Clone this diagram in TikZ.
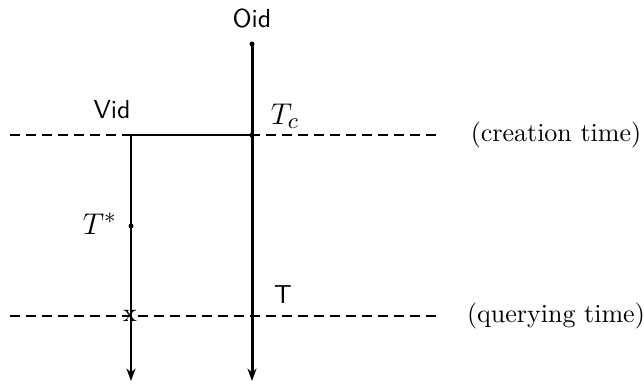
\documentclass[tikz,border=0pt]{standalone}
\usetikzlibrary{arrows.meta}
\begin{document}
\begin{tikzpicture}[x=0.4pt,y=-0.4pt,
  every node/.style={font=\fontsize{10.4}{12.5}\selectfont, inner sep=0pt},
  mathlabel/.style={font=\fontsize{12.5}{15}\selectfont},
  timeline/.style={line width=0.8pt, dash pattern=on 4pt off 2.4pt},
  qline/.style={line width=1.1pt, dash pattern=on 4pt off 2.4pt},
  life/.style={line width=0.8pt, -{Stealth[length=5pt,width=3.6pt]}},
  olife/.style={line width=1.2pt, -{Stealth[length=5pt,width=3.6pt]}},
  dotmark/.style={circle, fill=black, minimum size=2pt, inner sep=0pt}]
\useasboundingbox (0,0) rectangle (644,383);
% coordinates
\coordinate (cl) at (10,135);
\coordinate (cr) at (440,135);
\coordinate (ql) at (10,316);
\coordinate (qr) at (440,316);
\coordinate (vtop) at (131,135);
\coordinate (vbot) at (131,381);
\coordinate (obot) at (252,381);
\node[dotmark] (otop) at (252,44) {};
\node[dotmark] (oc) at (252,135) {};
\node[dotmark] (ts) at (131,226) {};
% dashed time lines
\draw[timeline] (cl) -- (cr);
\draw[qline] (ql) -- (qr);
% lifelines
\draw[olife] (otop.center) -- (obot);
\draw[line width=0.8pt] (oc.center) -- (vtop);
\draw[life] (vtop) -- (vbot);
% labels
\node (oid) at (252,18) {\sffamily Oid};
\node (vid) at (112,110) {\sffamily Vid};
\node[mathlabel] (tc) at (285,116) {$T_c$};
\node[mathlabel] (tstar) at (100,224) {$T^*$};
\node (t) at (283,295) {\sffamily T};
\node (x) at (130,316) {x};
\node (ct) at (556,135) {(creation time)};
\node (qt) at (556,316) {(querying time)};
\end{tikzpicture}
\end{document}
